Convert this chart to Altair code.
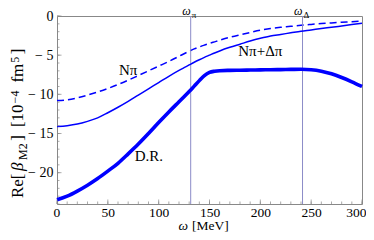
import altair as alt
import pandas as pd

# ---- data ----
omega = [0, 10, 20, 30, 40, 50, 60, 70, 80, 90, 100, 110, 120, 125, 130, 135, 140, 145,
         150, 155, 160, 170, 180, 190, 200, 210, 220, 230, 240, 250, 260, 270, 280, 290, 300]
n_pi = [-10.8, -10.7, -10.45, -10.1, -9.7, -9.25, -8.75, -8.2, -7.6, -7.0, -6.4, -5.8, -5.15,
        -4.82, -4.5, -4.2, -3.95, -3.72, -3.5, -3.3, -3.1, -2.72, -2.4, -2.1, -1.82, -1.6,
        -1.45, -1.32, -1.18, -1.07, -0.97, -0.88, -0.8, -0.72, -0.64]
n_pi_delta_pi = [-14.1, -14.0, -13.8, -13.45, -13.0, -12.35, -11.65, -10.9, -10.1, -9.3, -8.5,
                 -7.7, -6.95, -6.6, -6.25, -5.9, -5.58, -5.28, -5.0, -4.72, -4.46, -4.0, -3.6,
                 -3.2, -2.85, -2.55, -2.35, -2.15, -1.95, -1.78, -1.6, -1.44, -1.27, -1.1, -0.93]
dispersion = [-23.45, -23.0, -22.35, -21.6, -20.75, -19.8, -18.8, -17.6, -16.35, -15.0, -13.6,
              -12.25, -10.95, -10.3, -9.65, -8.95, -8.25, -7.6, -7.2, -7.05, -6.98, -6.94,
              -6.92, -6.9, -6.88, -6.86, -6.84, -6.82, -6.8, -6.86, -7.05, -7.38, -7.85, -8.4, -9.0]

thresholds = [131.5, 241.5]
threshold_subscripts = ["π", "Δ"]

curve_labels = ["Nπ", "Nπ+Δπ", "D.R."]
curve_label_omega = [70, 200, 90.3]
curve_label_value = [-6.9, -4.45, -17.9]

x_labels = [0, 50, 100, 150, 200, 250, 300]
y_labels = [-20, -15, -10, -5, 0]
x_minor = list(range(0, 301, 10))
y_minor = list(range(-24, 1))

# ---- styling ----
W, H = 305, 188
FONT = "Liberation Serif"
BLUE = "#0000ff"
FRAME = "#888888"
RULE = "#8c8cc8"

xs = alt.Scale(domain=[0, 300], nice=False, zero=False)
ys = alt.Scale(domain=[-24, 0], nice=False, zero=False)

x_axis = alt.Axis(values=x_labels, grid=False, domain=False, ticks=False,
                  labelFont=FONT, labelFontSize=13.5, labelColor="black", labelPadding=1,
                  labelFlush=True, labelFlushOffset=4, title=None)
y_axis = alt.Axis(values=y_labels, grid=False, domain=False, ticks=False,
                  labelFont=FONT, labelFontSize=14, labelColor="black", labelPadding=4,
                  labelFlush=False, title=None,
                  labelExpr="replace(datum.label, '\u2212', '\u2212 ')")


def X(field):
    return alt.X(field, type="quantitative", scale=xs, axis=x_axis)


def Y(field):
    return alt.Y(field, type="quantitative", scale=ys, axis=y_axis)


curves = pd.DataFrame({"omega": omega, "npi": n_pi, "npidpi": n_pi_delta_pi, "dr": dispersion})
base = alt.Chart(curves)

line_npi = base.mark_line(color=BLUE, strokeWidth=1.5, strokeDash=[7, 4],
                          interpolate="monotone").encode(x=X("omega"), y=Y("npi"))
line_npidpi = base.mark_line(color=BLUE, strokeWidth=1.5,
                             interpolate="monotone").encode(x=X("omega"), y=Y("npidpi"))
line_dr = base.mark_line(color=BLUE, strokeWidth=3.6,
                         interpolate="monotone").encode(x=X("omega"), y=Y("dr"))

thr = pd.DataFrame({"w": thresholds, "sub": threshold_subscripts})
rules = alt.Chart(thr).mark_rule(color=RULE, strokeWidth=1).encode(x=X("w"))
omega_txt = alt.Chart(thr).mark_text(font=FONT, fontSize=12, fontStyle="italic", align="right",
                                     baseline="alphabetic", text="ω", color="black").encode(
    x=X("w"), y=alt.value(-1))
sub_txt = alt.Chart(thr).mark_text(font=FONT, fontSize=9, align="left", dx=1,
                                   baseline="alphabetic", color="black").encode(
    x=X("w"), y=alt.value(1.5), text="sub:N")

lab = pd.DataFrame({"t": curve_labels, "w": curve_label_omega, "v": curve_label_value})
labels = alt.Chart(lab).mark_text(font=FONT, fontSize=15, align="center", baseline="middle",
                                  color="black").encode(x=X("w"), y=Y("v"), text="t:N")

xt = pd.DataFrame({"t": x_minor})
yt = pd.DataFrame({"t": y_minor})
xmaj = pd.DataFrame({"t": x_labels})
ymaj = pd.DataFrame({"t": y_labels})
x_minor_ticks = alt.Chart(xt).mark_tick(color=FRAME, thickness=1, size=2.5, orient="vertical").encode(
    x=X("t"), y=alt.value(H - 1.25))
x_major_ticks = alt.Chart(xmaj).mark_tick(color=FRAME, thickness=1, size=4.5, orient="vertical").encode(
    x=X("t"), y=alt.value(H - 2.25))
y_minor_ticks = alt.Chart(yt).mark_tick(color=FRAME, thickness=1, size=2.5, orient="horizontal").encode(
    y=Y("t"), x=alt.value(1.25))
y_major_ticks = alt.Chart(ymaj).mark_tick(color=FRAME, thickness=1, size=4.5, orient="horizontal").encode(
    y=Y("t"), x=alt.value(2.25))


def text_piece(text, x, y, size, style="normal", angle=0, align="center"):
    return alt.Chart(pd.DataFrame({"t": [text]})).mark_text(
        font=FONT, fontSize=size, fontStyle=style, angle=angle, align=align,
        baseline="alphabetic", color="black").encode(
        text="t:N", x=alt.value(x), y=alt.value(y))


# y-axis title  Re[β_M2] [10^-4 fm^5], read bottom to top
ytitle = [
    text_piece("Re[", -34, 169.75, 17, angle=270),
    text_piece("β", -34, 150.75, 17, "italic", angle=270),
    text_piece("M2", -30, 135.65, 12, angle=270),
    text_piece("]", -34, 122, 17, angle=270),
    text_piece("[10", -34, 99.75, 17, angle=270),
    text_piece("\u22124", -38, 81, 12, angle=270),
    text_piece("fm", -34, 57.15, 17, angle=270),
    text_piece("5", -38, 43.7, 12, angle=270),
    text_piece("]", -34, 35.35, 17, angle=270),
]
# x-axis title  ω [MeV]
xtitle = [
    text_piece("ω", 131, 214, 13.5, "italic", align="right"),
    text_piece("[MeV]", 135, 214, 13.5, align="left"),
]

chart = alt.layer(
    line_npi, rules, line_npidpi, line_dr,
    x_minor_ticks, x_major_ticks, y_minor_ticks, y_major_ticks,
    omega_txt, sub_txt, labels, *ytitle, *xtitle,
).properties(
    width=W, height=H,
    autosize=alt.AutoSizeParams(type="none"),
    padding={"left": 49, "top": 8, "right": 4, "bottom": 28},
).configure_view(stroke=FRAME, strokeWidth=1)

chart.save("out.html", embed_options={"renderer": "svg", "actions": False})
